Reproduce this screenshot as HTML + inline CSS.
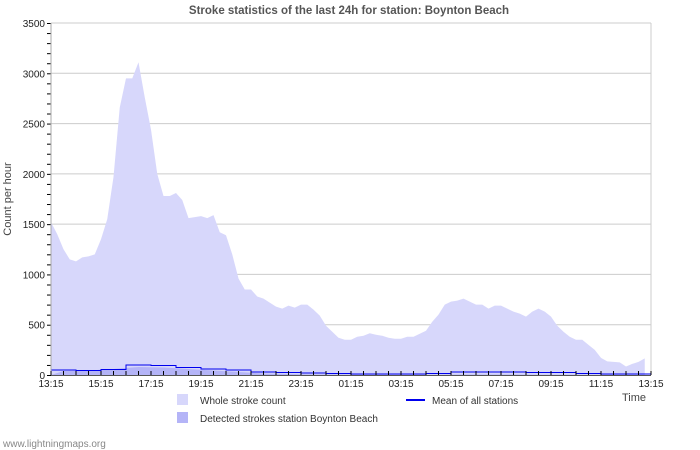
<!DOCTYPE html>
<html><head><meta charset="utf-8"><style>
body{margin:0;background:#fff;}
svg{display:block;font-family:"Liberation Sans",sans-serif;}
</style></head><body>
<svg id="c" width="700" height="450"></svg>
<script>
const xLabels=["13:15","15:15","17:15","19:15","21:15","23:15","01:15","03:15","05:15","07:15","09:15","11:15","13:15"];
const yTicks=[0,500,1000,1500,2000,2500,3000,3500];
// whole stroke count, every 15 minutes from 13:15
const whole=[1520,1400,1250,1150,1130,1170,1180,1200,1350,1550,1970,2660,2950,2950,3110,2760,2440,2000,1780,1780,1810,1740,1560,1570,1580,1560,1590,1420,1390,1200,960,850,850,780,760,720,680,660,690,670,700,700,650,590,490,430,370,350,350,380,390,415,400,390,370,360,360,380,380,410,440,530,600,700,730,740,760,730,700,700,660,690,690,660,630,610,580,630,660,630,580,490,430,380,350,350,300,250,170,135,130,125,85,110,130,165];
// hourly values from 13:15
const meanAll=[50,45,55,100,95,75,60,50,30,25,20,15,10,10,10,15,30,30,30,25,25,15,10,10];
const detected=[40,45,60,80,75,60,45,30,15,10,5,5,2,2,2,3,5,5,5,3,3,2,2,1];

const L=51,R=651,T=23,B=375,NS="http://www.w3.org/2000/svg";
const svg=document.getElementById('c');
function X(h){return L+h*(R-L)/24;}
function Y(v){return B-v*(B-T)/3500;}
function el(t,a,txt){const e=document.createElementNS(NS,t);for(const k in a)e.setAttribute(k,a[k]);if(txt!==undefined)e.textContent=txt;svg.appendChild(e);return e;}

let e;
e=el('text',{x:349,y:14,'text-anchor':'middle','font-size':11.5,'font-weight':'bold',fill:'#555'},'Stroke statistics of the last 24h for station: Boynton Beach');



yTicks.forEach(v=>{
  if(v>0){e=el('line',{x1:L,x2:R,y1:Y(v),y2:Y(v),stroke:'#ccc','stroke-width':1});
  
  }
  e=el('text',{x:45,y:Y(v)+4,'text-anchor':'end','font-size':10,fill:'#222'},String(v));
  
  
});
for(let v=0;v<=3500;v+=100){
  e=el('line',{x1:L-4,x2:L,y1:Y(v)+.5,y2:Y(v)+.5,stroke:'#000','stroke-width':1});
  
  
}
e=el('line',{x1:R,x2:R,y1:T,y2:B,stroke:'#ccc'});



// whole area
let d='M'+X(0)+','+Y(0);
whole.forEach((v,i)=>{d+=' L'+X(i*0.25)+','+Y(v);});
d+=' L'+X((whole.length-1)*0.25)+','+Y(0)+'Z';
e=el('path',{d:d,fill:'#d7d7fb'});



// detected area
d='M'+X(0)+','+Y(0);
detected.forEach((v,i)=>{d+=' L'+X(i+0.5)+','+Y(v);});
d+=' L'+X(detected.length)+','+Y(0)+'Z';
e=el('path',{d:d,fill:'#b4b4f7'});



// mean line
d='';
meanAll.forEach((v,i)=>{d+=(i?' L':'M')+X(i)+','+Y(v)+' L'+X(i+1)+','+Y(v);});
e=el('path',{d:d,fill:'none',stroke:'#0000ee','stroke-width':1});



// axes
e=el('line',{x1:L,x2:L,y1:T,y2:B,stroke:'#aaa'});


e=el('line',{x1:L,x2:R,y1:B+.5,y2:B+.5,stroke:'#555'});


for(let h=0;h<=48;h++){
  e=el('line',{x1:X(h/2),x2:X(h/2),y1:B-4,y2:B,stroke:'#000'});
  
  
}
xLabels.forEach((s,i)=>{
  e=el('text',{x:X(i*2),y:387,'text-anchor':'middle','font-size':10,fill:'#222'},s);
  
  
});
e=el('text',{x:622,y:401,'font-size':11,fill:'#444'},'Time');


e=el('text',{x:11,y:199,'text-anchor':'middle','font-size':11,fill:'#444',transform:'rotate(-90 11 199)'},'Count per hour');



// legend
e=el('rect',{x:177,y:394,width:11,height:11,fill:'#d7d7fb'});


e=el('text',{x:200,y:404,'font-size':10,fill:'#333'},'Whole stroke count');


e=el('rect',{x:177,y:412,width:11,height:11,fill:'#b4b4f7'});


e=el('text',{x:200,y:422,'font-size':10,fill:'#333'},'Detected strokes station Boynton Beach');


e=el('line',{x1:406,x2:425,y1:400,y2:400,stroke:'#0000ee','stroke-width':2});


e=el('text',{x:432,y:404,'font-size':10,fill:'#333'},'Mean of all stations');


e=el('text',{x:3,y:447,'font-size':10,fill:'#888'},'www.lightningmaps.org');


</script>
</body></html>
